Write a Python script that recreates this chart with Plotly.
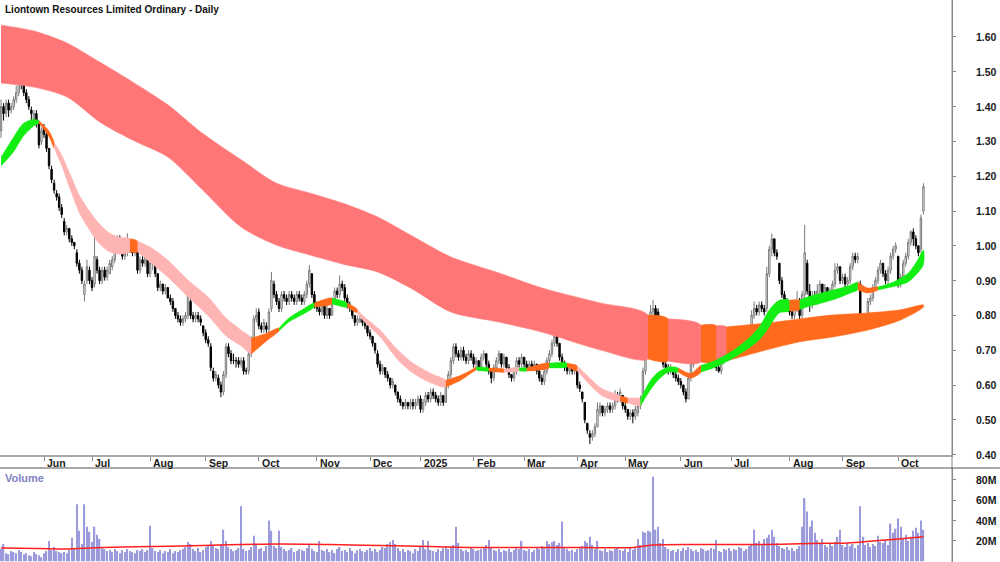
import plotly.graph_objects as go
import pandas as pd

title = "Liontown Resources Limited Ordinary - Daily"
start_date = "2024-05-09"
asx_holidays = ["2024-06-10", "2024-12-25", "2024-12-26", "2025-01-01", "2025-01-27",
                "2025-04-18", "2025-04-21", "2025-04-25", "2025-06-09"]

opens = [
1.33,1.40,1.38,1.41,1.39,1.40,1.42,1.44,1.50,1.47,
1.44,1.42,1.39,1.36,1.38,1.35,1.30,1.34,1.32,1.28,
1.22,1.18,1.15,1.14,1.11,1.07,1.04,1.05,1.02,1.01,
0.98,0.95,0.93,0.86,0.90,0.93,0.90,0.89,0.96,0.93,
0.90,0.93,0.91,0.92,0.94,0.96,1.00,1.02,0.99,0.97,
0.98,1.01,0.99,0.98,0.99,0.93,0.96,0.95,0.96,0.92,
0.95,0.95,0.92,0.88,0.89,0.87,0.88,0.85,0.84,0.82,
0.80,0.79,0.78,0.79,0.80,0.84,0.80,0.79,0.80,0.79,
0.77,0.75,0.73,0.71,0.64,0.62,0.62,0.60,0.58,0.63,
0.71,0.69,0.67,0.67,0.67,0.66,0.67,0.64,0.64,0.69,
0.73,0.79,0.81,0.77,0.76,0.77,0.76,0.82,0.89,0.86,
0.84,0.82,0.86,0.85,0.84,0.86,0.85,0.84,0.86,0.85,
0.84,0.86,0.89,0.92,0.86,0.83,0.82,0.81,0.83,0.80,
0.82,0.80,0.84,0.87,0.86,0.89,0.88,0.85,0.83,0.82,
0.80,0.78,0.78,0.79,0.78,0.77,0.75,0.74,0.72,0.69,
0.66,0.64,0.65,0.63,0.62,0.60,0.60,0.58,0.56,0.55,
0.54,0.55,0.54,0.55,0.54,0.55,0.56,0.53,0.55,0.57,
0.56,0.58,0.57,0.56,0.55,0.57,0.55,0.60,0.63,0.67,
0.71,0.69,0.68,0.70,0.68,0.67,0.69,0.68,0.66,0.67,
0.65,0.68,0.69,0.66,0.64,0.62,0.65,0.67,0.69,0.66,
0.68,0.65,0.63,0.62,0.64,0.67,0.66,0.68,0.66,0.65,
0.66,0.65,0.66,0.64,0.62,0.61,0.64,0.67,0.69,0.72,
0.74,0.72,0.68,0.66,0.65,0.64,0.65,0.64,0.64,0.60,
0.58,0.55,0.49,0.46,0.45,0.46,0.48,0.52,0.54,0.52,
0.53,0.54,0.53,0.54,0.57,0.56,0.57,0.54,0.53,0.51,
0.52,0.51,0.52,0.54,0.56,0.64,0.73,0.79,0.81,0.82,
0.81,0.71,0.68,0.66,0.65,0.64,0.645,0.63,0.62,0.61,
0.60,0.58,0.56,0.62,0.66,0.70,0.71,0.70,0.72,0.70,
0.71,0.67,0.68,0.66,0.65,0.64,0.67,0.70,0.71,0.70,
0.73,0.72,0.74,0.73,0.75,0.72,0.71,0.76,0.80,0.82,
0.81,0.83,0.82,0.82,0.92,0.99,1.02,0.98,0.95,0.90,
0.86,0.84,0.83,0.81,0.80,0.82,0.84,0.80,0.86,0.95,
0.87,0.83,0.85,0.84,0.87,0.89,0.86,0.88,0.86,0.87,
0.89,0.93,0.94,0.90,0.91,0.89,0.90,0.94,0.97,0.96,
0.89,0.79,0.78,0.77,0.84,0.85,0.88,0.90,0.93,0.95,
0.92,0.90,0.93,0.97,0.99,0.97,0.89,0.91,0.95,0.97,
1.01,1.04,1.02,1.00,0.99,1.10]

highs = [
1.42,1.41,1.42,1.42,1.41,1.43,1.46,1.53,1.51,1.48,
1.45,1.43,1.40,1.39,1.39,1.36,1.34,1.35,1.33,1.28,
1.23,1.19,1.16,1.15,1.12,1.08,1.06,1.05,1.03,1.01,
0.99,0.96,0.94,0.90,0.96,0.94,0.91,1.045,0.97,0.94,
0.94,0.94,0.94,0.96,0.97,1.01,1.03,1.03,1.00,0.99,
1.036,1.02,1.00,1.00,0.99,0.97,0.97,0.98,0.96,0.96,
0.97,0.96,0.92,0.90,0.89,0.89,0.88,0.86,0.85,0.82,
0.81,0.80,0.80,0.81,0.88,0.85,0.81,0.81,0.81,0.80,
0.77,0.76,0.74,0.72,0.65,0.64,0.63,0.61,0.64,0.72,
0.72,0.70,0.69,0.68,0.68,0.68,0.68,0.65,0.70,0.74,
0.80,0.82,0.82,0.78,0.79,0.78,0.82,0.925,0.90,0.87,
0.85,0.87,0.87,0.86,0.87,0.87,0.86,0.87,0.87,0.86,
0.87,0.90,0.945,0.92,0.87,0.84,0.83,0.84,0.83,0.83,
0.82,0.85,0.88,0.88,0.915,0.90,0.89,0.86,0.84,0.82,
0.80,0.80,0.80,0.80,0.78,0.77,0.76,0.74,0.72,0.70,
0.67,0.66,0.65,0.64,0.62,0.62,0.60,0.58,0.57,0.55,
0.56,0.55,0.56,0.56,0.56,0.57,0.57,0.56,0.58,0.58,
0.59,0.59,0.58,0.57,0.58,0.57,0.61,0.64,0.68,0.72,
0.72,0.70,0.71,0.71,0.69,0.70,0.70,0.69,0.68,0.67,
0.69,0.70,0.69,0.67,0.64,0.66,0.68,0.70,0.69,0.69,
0.68,0.66,0.63,0.65,0.68,0.68,0.69,0.68,0.67,0.67,
0.67,0.67,0.66,0.65,0.63,0.65,0.68,0.70,0.73,0.752,
0.75,0.72,0.69,0.67,0.66,0.66,0.66,0.66,0.64,0.61,
0.58,0.55,0.49,0.47,0.47,0.49,0.55,0.55,0.54,0.54,
0.55,0.55,0.55,0.585,0.58,0.59,0.57,0.55,0.53,0.53,
0.53,0.54,0.55,0.57,0.65,0.74,0.80,0.83,0.845,0.83,
0.82,0.72,0.69,0.67,0.66,0.66,0.65,0.64,0.63,0.62,
0.60,0.59,0.63,0.67,0.71,0.72,0.72,0.73,0.72,0.72,
0.71,0.69,0.68,0.67,0.66,0.68,0.71,0.72,0.72,0.74,
0.74,0.75,0.75,0.77,0.76,0.73,0.77,0.815,0.84,0.83,
0.84,0.84,0.83,0.94,1.00,1.035,1.02,0.99,0.95,0.91,
0.87,0.85,0.83,0.82,0.83,0.87,0.85,0.87,1.06,0.96,
0.89,0.87,0.87,0.89,0.90,0.89,0.89,0.88,0.88,0.90,
0.95,0.95,0.94,0.92,0.92,0.91,0.95,0.98,0.98,0.98,
0.90,0.80,0.79,0.85,0.86,0.89,0.91,0.94,0.96,0.95,
0.93,0.94,0.98,1.00,1.01,0.97,0.92,0.96,0.98,1.02,
1.045,1.05,1.03,1.00,1.09,1.18]

lows = [
1.31,1.36,1.37,1.37,1.38,1.39,1.41,1.43,1.45,1.43,
1.41,1.39,1.36,1.35,1.34,1.28,1.29,1.31,1.27,1.22,
1.18,1.15,1.13,1.10,1.08,1.03,1.03,1.01,1.00,0.99,
0.94,0.92,0.89,0.84,0.89,0.89,0.87,0.88,0.92,0.89,
0.89,0.90,0.90,0.92,0.93,0.95,0.99,0.98,0.96,0.96,
0.97,0.98,0.97,0.97,0.92,0.92,0.94,0.94,0.91,0.91,
0.93,0.91,0.87,0.87,0.86,0.86,0.85,0.83,0.81,0.79,
0.78,0.77,0.77,0.78,0.79,0.79,0.78,0.78,0.78,0.77,
0.74,0.72,0.71,0.64,0.61,0.61,0.59,0.565,0.57,0.62,
0.68,0.66,0.66,0.65,0.65,0.65,0.63,0.63,0.63,0.68,
0.72,0.78,0.76,0.75,0.75,0.75,0.75,0.81,0.85,0.83,
0.81,0.81,0.84,0.83,0.83,0.84,0.83,0.83,0.84,0.83,
0.83,0.85,0.88,0.85,0.82,0.81,0.80,0.80,0.79,0.79,
0.79,0.80,0.83,0.85,0.85,0.87,0.84,0.82,0.81,0.79,
0.77,0.77,0.78,0.77,0.76,0.74,0.73,0.71,0.69,0.65,
0.63,0.63,0.62,0.61,0.59,0.59,0.57,0.55,0.54,0.53,
0.53,0.53,0.53,0.53,0.53,0.54,0.52,0.52,0.54,0.55,
0.55,0.56,0.55,0.54,0.54,0.54,0.55,0.59,0.62,0.66,
0.68,0.67,0.67,0.67,0.66,0.66,0.67,0.65,0.65,0.64,
0.64,0.67,0.65,0.63,0.605,0.61,0.64,0.66,0.65,0.65,
0.64,0.62,0.61,0.61,0.63,0.65,0.65,0.65,0.64,0.64,
0.64,0.64,0.63,0.61,0.60,0.60,0.63,0.66,0.68,0.71,
0.71,0.67,0.65,0.64,0.63,0.63,0.63,0.63,0.59,0.58,
0.55,0.49,0.46,0.43,0.44,0.45,0.48,0.51,0.51,0.51,
0.52,0.52,0.52,0.53,0.55,0.55,0.53,0.52,0.50,0.50,
0.49,0.50,0.51,0.53,0.55,0.63,0.72,0.78,0.79,0.79,
0.70,0.67,0.65,0.64,0.63,0.63,0.62,0.61,0.60,0.59,
0.57,0.55,0.56,0.61,0.65,0.69,0.69,0.69,0.69,0.69,
0.66,0.66,0.65,0.64,0.635,0.63,0.66,0.69,0.69,0.69,
0.71,0.71,0.72,0.72,0.71,0.70,0.70,0.75,0.79,0.80,
0.80,0.81,0.80,0.81,0.91,0.97,0.97,0.96,0.89,0.85,
0.83,0.82,0.80,0.79,0.79,0.81,0.78,0.79,0.85,0.86,
0.81,0.82,0.83,0.83,0.86,0.85,0.85,0.85,0.85,0.86,
0.88,0.92,0.89,0.89,0.88,0.88,0.89,0.93,0.95,0.95,
0.78,0.77,0.76,0.77,0.83,0.84,0.87,0.89,0.92,0.91,
0.89,0.89,0.92,0.96,0.98,0.88,0.88,0.90,0.94,0.96,
1.00,1.00,0.99,0.97,0.98,1.09]

closes = [
1.40,1.38,1.41,1.39,1.40,1.42,1.44,1.50,1.47,1.44,
1.42,1.40,1.38,1.38,1.35,1.29,1.33,1.32,1.28,1.23,
1.19,1.16,1.14,1.11,1.09,1.04,1.05,1.02,1.01,1.00,
0.95,0.93,0.90,0.89,0.94,0.90,0.88,0.97,0.93,0.90,
0.93,0.91,0.93,0.95,0.96,1.00,1.02,0.99,0.97,0.98,
1.01,0.99,0.98,0.99,0.93,0.96,0.95,0.97,0.92,0.95,
0.96,0.92,0.88,0.89,0.87,0.88,0.85,0.84,0.82,0.80,
0.79,0.78,0.79,0.80,0.86,0.80,0.79,0.80,0.79,0.78,
0.75,0.73,0.72,0.65,0.62,0.63,0.60,0.58,0.63,0.71,
0.69,0.67,0.67,0.67,0.66,0.67,0.64,0.64,0.69,0.73,
0.79,0.80,0.77,0.76,0.78,0.76,0.81,0.90,0.86,0.84,
0.82,0.86,0.85,0.84,0.86,0.85,0.84,0.86,0.85,0.84,
0.86,0.89,0.93,0.86,0.83,0.82,0.81,0.83,0.80,0.82,
0.80,0.84,0.87,0.86,0.89,0.88,0.85,0.83,0.82,0.80,
0.78,0.79,0.79,0.78,0.77,0.75,0.74,0.72,0.70,0.66,
0.64,0.65,0.63,0.62,0.60,0.61,0.58,0.56,0.55,0.54,
0.55,0.54,0.55,0.54,0.55,0.56,0.53,0.55,0.57,0.56,
0.58,0.57,0.56,0.55,0.57,0.55,0.60,0.63,0.67,0.71,
0.69,0.68,0.70,0.68,0.67,0.69,0.68,0.66,0.67,0.65,
0.68,0.69,0.66,0.64,0.62,0.65,0.67,0.69,0.66,0.68,
0.65,0.63,0.62,0.64,0.67,0.66,0.68,0.66,0.65,0.66,
0.65,0.66,0.64,0.62,0.61,0.64,0.67,0.69,0.72,0.74,
0.72,0.68,0.66,0.65,0.64,0.65,0.64,0.65,0.60,0.59,
0.56,0.50,0.47,0.45,0.46,0.48,0.53,0.54,0.52,0.53,
0.54,0.53,0.54,0.57,0.56,0.58,0.54,0.53,0.51,0.52,
0.51,0.53,0.54,0.56,0.64,0.73,0.79,0.81,0.82,0.80,
0.71,0.68,0.66,0.65,0.64,0.645,0.63,0.62,0.61,0.60,
0.58,0.56,0.62,0.66,0.70,0.71,0.70,0.72,0.70,0.71,
0.67,0.68,0.66,0.65,0.64,0.67,0.70,0.71,0.70,0.73,
0.72,0.74,0.73,0.75,0.72,0.71,0.76,0.80,0.82,0.81,
0.83,0.82,0.81,0.92,0.99,1.02,0.98,0.97,0.90,0.86,
0.84,0.83,0.81,0.80,0.82,0.84,0.80,0.86,0.98,0.87,
0.83,0.85,0.84,0.87,0.89,0.86,0.88,0.86,0.87,0.89,
0.93,0.94,0.90,0.91,0.89,0.90,0.94,0.97,0.96,0.97,
0.79,0.78,0.77,0.84,0.85,0.88,0.90,0.93,0.95,0.92,
0.90,0.93,0.97,0.99,1.00,0.89,0.91,0.95,0.97,1.01,
1.04,1.02,1.00,0.98,1.08,1.17]

# daily volume, millions of shares
volume_m = [
12,17,8,7,10,9,8,11,9,7,
8,6,5,9,7,6,4,8,10,20,
11,14,10,9,8,9,8,11,23,12,
56,30,17,56,34,29,19,34,26,22,
14,12,10,11,9,12,10,8,11,9,
12,10,9,8,11,10,12,9,11,35,
13,10,9,11,8,10,9,12,8,10,
9,11,12,14,19,17,12,10,13,9,
11,14,16,20,15,13,12,17,31,20,
14,12,10,11,13,54,12,10,11,14,
25,16,12,13,10,15,40,30,15,13,
30,14,12,10,11,13,9,10,12,11,
10,13,16,12,10,9,20,11,10,12,
9,11,8,12,14,10,11,9,13,10,
8,11,12,10,9,11,13,10,12,9,
11,14,13,17,19,21,17,13,10,12,
9,11,10,8,12,10,14,21,12,20,
11,10,9,12,10,13,15,12,14,16,
34,18,12,10,11,9,13,12,10,11,
12,14,16,21,13,11,10,12,9,11,
10,12,9,11,13,12,20,11,10,12,
9,11,13,12,15,14,20,17,19,20,
16,18,39,14,12,10,11,9,12,13,
15,20,18,24,16,12,20,11,10,12,
9,11,10,12,13,11,10,12,9,14,
11,13,22,16,29,28,30,29,83,31,
34,18,22,14,12,10,11,9,12,10,
13,11,14,12,10,11,9,13,12,10,
11,13,12,21,10,9,12,11,13,10,
12,11,14,13,10,12,15,17,31,18,
20,16,22,23,26,31,24,18,15,13,
12,14,11,13,10,12,15,34,62,49,
34,40,28,21,18,22,16,14,17,15,
19,24,31,16,14,18,15,17,13,16,
54,24,16,18,14,17,15,25,19,18,
21,16,37,28,32,42,34,22,26,20,
24,30,33,28,40,31]

# volume moving average read at sample days (millions)
vma_day = [0, 15, 25, 40, 60, 80, 95, 110, 130, 150, 170, 190, 210, 230, 250, 258, 280, 300, 320, 335, 345, 355, 365]
vma_val = [13, 12.5, 12, 13.5, 14.5, 15.5, 16.5, 17, 16.5, 15.5, 14.5, 13.5, 13.5, 13.5, 13.5, 16, 16.5, 16.5, 17.5, 18, 20, 22, 24]

# long-term band (upper / lower edge) read at sample days, with colour code of the following segment
long_day = [0, 13, 26, 39, 52, 66, 79, 95, 109, 122, 135, 149, 162, 178, 197, 214, 237, 256, 264, 277, 283, 287, 303, 316, 329, 343, 356, 365]
long_hi = [1.634, 1.617, 1.583, 1.528, 1.471, 1.405, 1.327, 1.247, 1.180, 1.152, 1.123, 1.083, 1.031, 0.968, 0.922, 0.879, 0.836, 0.801, 0.790, 0.772, 0.770, 0.767, 0.778, 0.790, 0.801, 0.807, 0.816, 0.830]
long_lo = [1.468, 1.456, 1.428, 1.356, 1.304, 1.255, 1.166, 1.054, 1.002, 0.974, 0.948, 0.925, 0.879, 0.810, 0.781, 0.752, 0.701, 0.675, 0.669, 0.666, 0.666, 0.669, 0.701, 0.724, 0.738, 0.758, 0.787, 0.824]
long_col = ["R"] * 17 + ["O", "R", "O", "R"] + ["O"] * 7

# short-term band
short_day = [0, 5, 9, 13, 15, 19, 21, 24, 27, 31, 35, 39, 43, 47, 51, 54, 59, 66, 74, 82, 89, 95, 99, 105,
             110, 114, 119, 124, 131, 137, 141, 143, 150, 157, 163, 170, 176, 182, 186, 188, 193, 199, 205, 208,
             217, 224, 228, 233, 238, 245, 248, 253, 257, 260, 264, 268, 273, 277, 283, 290, 295, 300, 304, 308,
             312, 316, 319, 329, 336, 339, 343, 347, 353, 359, 362, 365]
short_hi = [1.255, 1.313, 1.353, 1.364, 1.359, 1.330, 1.298, 1.261, 1.212, 1.146, 1.100, 1.063, 1.037, 1.025, 1.020, 1.014,
            0.997, 0.959, 0.902, 0.853, 0.793, 0.758, 0.735, 0.749,
            0.764, 0.793, 0.816, 0.836, 0.850, 0.836, 0.818, 0.801, 0.758, 0.701, 0.663, 0.634, 0.614, 0.629, 0.643, 0.652,
            0.649, 0.646, 0.649, 0.649,
            0.663, 0.663, 0.655, 0.620, 0.589, 0.568, 0.563, 0.560, 0.614, 0.637, 0.652, 0.649, 0.634, 0.657, 0.672, 0.701,
            0.729, 0.767, 0.816, 0.844,
            0.844, 0.844, 0.853, 0.873, 0.887, 0.896, 0.879, 0.882, 0.896, 0.922, 0.951, 0.988]
short_lo = [1.229, 1.270, 1.316, 1.344, 1.353, 1.313, 1.281, 1.229, 1.169, 1.094, 1.045, 1.005, 0.982, 0.976, 0.982, 0.982,
            0.953, 0.910, 0.853, 0.798, 0.741, 0.712, 0.689, 0.726,
            0.755, 0.781, 0.801, 0.824, 0.833, 0.824, 0.807, 0.787, 0.738, 0.672, 0.634, 0.606, 0.594, 0.614, 0.634, 0.643,
            0.640, 0.637, 0.640, 0.640,
            0.649, 0.652, 0.640, 0.600, 0.568, 0.554, 0.548, 0.540, 0.586, 0.614, 0.637, 0.637, 0.620, 0.637, 0.652, 0.678,
            0.701, 0.729, 0.767, 0.807,
            0.813, 0.816, 0.824, 0.844, 0.864, 0.873, 0.864, 0.873, 0.882, 0.896, 0.916, 0.945]
short_col = ["G", "G", "G", "G", "O", "O", "P", "P", "P", "P", "P", "P", "P", "P", "O", "P", "P", "P", "P", "P", "P", "P", "O", "O",
             "G", "G", "G", "O", "G", "O", "P", "P", "P", "P", "P", "P", "O", "O", "O", "G", "O", "P", "G", "O",
             "G", "O", "P", "P", "P", "O", "P", "G", "G", "G", "G", "O", "O", "G", "G", "G", "G", "G", "G", "G",
             "O", "G", "G", "G", "G", "O", "O", "G", "G", "G", "G", "G"]

price_ticks = [0.40, 0.50, 0.60, 0.70, 0.80, 0.90, 1.00, 1.10, 1.20, 1.30, 1.40, 1.50, 1.60]
volume_ticks = [20, 40, 60, 80]

band_colors = {"R": "#FF7676", "O": "#FF6A1C", "G": "#12EE12", "P": "#FFB4B4"}

# ---------------------------------------------------------------------------
dates = pd.date_range(start=start_date, periods=len(closes),
                      freq=pd.offsets.CustomBusinessDay(holidays=asx_holidays))
xi = list(range(len(dates)))

tick_idx, tick_txt = [], []
for k in range(1, len(dates)):
    if dates[k].month != dates[k - 1].month:
        tick_idx.append(k)
        tick_txt.append(str(dates[k].year) if dates[k].month == 1 else dates[k].strftime("%b"))


def band_traces(days, hi, lo, cols, edge):
    out = []
    n = len(days)
    k = 0
    while k < n - 1:
        c = cols[k]
        m = k
        while m + 1 < n - 1 and cols[m + 1] == c:
            m += 1
        xs = days[k:m + 2]
        ys = hi[k:m + 2] + lo[k:m + 2][::-1]
        out.append(go.Scatter(x=xs + xs[::-1], y=ys, fill="toself", fillcolor=band_colors[c],
                              mode="lines", line=dict(color=band_colors[c], width=edge, shape="spline", smoothing=0.8),
                              hoverinfo="skip", showlegend=False, xaxis="x", yaxis="y"))
        k = m + 1
    return out


fig = go.Figure()
for t in band_traces(long_day, long_hi, long_lo, long_col, 0.6):
    fig.add_trace(t)
for t in band_traces(short_day, short_hi, short_lo, short_col, 0.3):
    fig.add_trace(t)

fig.add_trace(go.Candlestick(
    x=xi, open=opens, high=highs, low=lows, close=closes,
    increasing=dict(line=dict(color="#7A7A7A", width=1), fillcolor="#FFFFFF"),
    decreasing=dict(line=dict(color="#000000", width=1), fillcolor="#000000"),
    whiskerwidth=0, showlegend=False, xaxis="x", yaxis="y"))

fig.add_trace(go.Bar(x=xi, y=volume_m, marker=dict(color="#9B9BDC", line=dict(width=0)),
                     width=0.55, showlegend=False, xaxis="x2", yaxis="y2"))
fig.add_trace(go.Scatter(x=vma_day, y=vma_val, mode="lines", line=dict(color="#FF2020", width=1.5, shape="spline"),
                         showlegend=False, xaxis="x2", yaxis="y2"))

xr = [-0.41, 376.3]
font_family = "Liberation Sans, Arial, sans-serif"
bold = dict(family=font_family, size=10.5, color="#1a1a1a", weight="bold")
fig.update_layout(
    width=1000, height=562, margin=dict(l=0, r=48, t=0, b=0),
    paper_bgcolor="white", plot_bgcolor="white", showlegend=False, boxgap=0.2,
    xaxis=dict(domain=[0, 1], range=xr, anchor="y", showline=True, linecolor="#A8A8A8", linewidth=2,
               ticks="outside", ticklen=4, tickcolor="#888888", tickvals=tick_idx, showticklabels=False,
               showgrid=False, zeroline=False, rangeslider=dict(visible=False)),
    xaxis2=dict(domain=[0, 1], range=xr, anchor="y2", showline=False, showticklabels=False,
                ticks="", showgrid=False, zeroline=False),
    yaxis=dict(domain=[107 / 562, 1], range=[0.3989, 1.7063], side="right", anchor="x",
               ticks="outside", ticklen=3, tickcolor="#888888", tickvals=price_ticks, showticklabels=False,
               showline=True, linecolor="#888888", linewidth=1, showgrid=False, zeroline=False),
    yaxis2=dict(domain=[0, 94 / 562], range=[-0.7, 91.6], side="right", anchor="x2",
                ticks="outside", ticklen=3, tickcolor="#888888", tickvals=volume_ticks, showticklabels=False,
                showline=True, linecolor="#888888", linewidth=1, showgrid=False, zeroline=False),
    shapes=[
        dict(type="line", xref="paper", yref="paper", x0=1, x1=1, y0=0, y1=1,
             line=dict(color="#888888", width=1)),
        dict(type="line", xref="paper", yref="paper", x0=0, x1=1.0504, y0=94 / 562, y1=94 / 562,
             line=dict(color="#555555", width=1)),
    ],
)

label_x = 999 / 952
annotations = [
    dict(text=title, xref="paper", yref="paper", x=0.003, y=1 - 9 / 562, xanchor="left", yanchor="middle",
         showarrow=False, font=dict(family=font_family, size=10, color="#111111", weight="bold")),
    dict(text="Volume", xref="paper", yref="paper", x=0.003, y=(562 - 478) / 562, xanchor="left", yanchor="middle",
         showarrow=False, font=dict(family=font_family, size=11, color="#8282C4", weight="bold")),
]
for v in price_ticks:
    annotations.append(dict(text="%.2f" % v, xref="paper", x=label_x, yref="y", y=v, xanchor="right",
                            yanchor="middle", showarrow=False, font=bold))
for v in volume_ticks:
    annotations.append(dict(text="%dM" % v, xref="paper", x=label_x, yref="y2", y=v, xanchor="right",
                            yanchor="middle", showarrow=False, font=bold))
for k, t in zip(tick_idx, tick_txt):
    annotations.append(dict(text=t, x=k, xref="x", y=(562 - 463) / 562, yref="paper", xanchor="left",
                            yanchor="middle", xshift=1, showarrow=False, font=bold))
fig.update_layout(annotations=annotations)

fig.write_html("out.html")
